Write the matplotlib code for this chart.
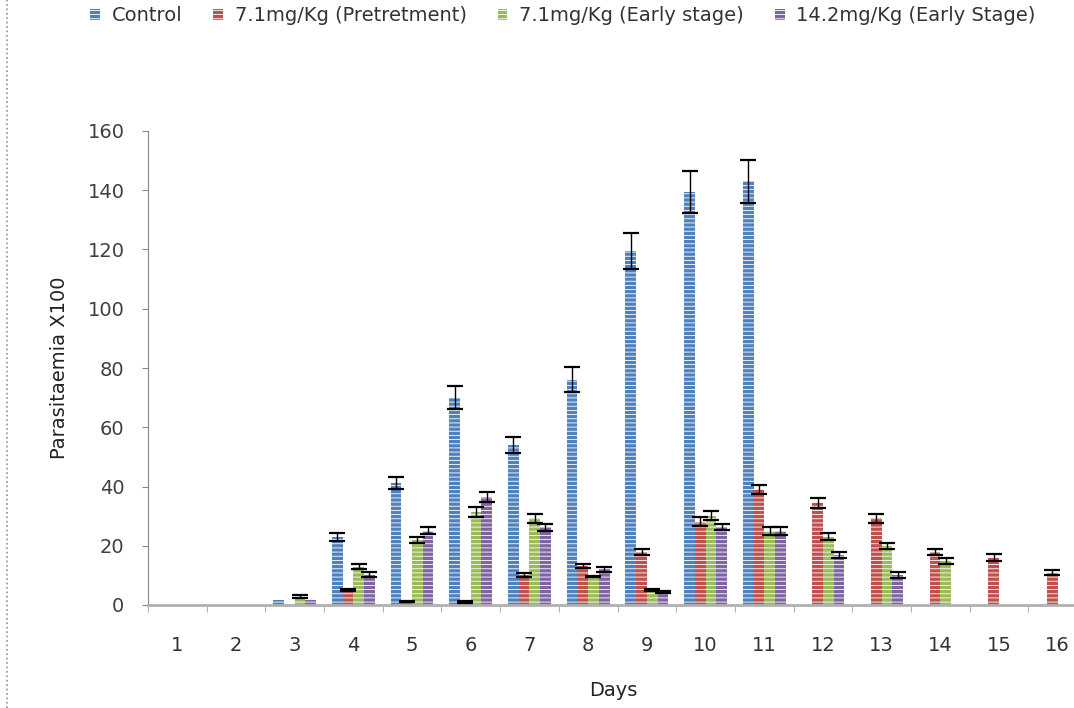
import numpy as np
import matplotlib
matplotlib.use("Agg")
import matplotlib.pyplot as plt
from matplotlib.lines import Line2D

plt.rcParams['font.family'] = ['DejaVu Sans']
plt.rcParams['hatch.color'] = 'white'
plt.rcParams['hatch.linewidth'] = 0.6

days = np.arange(1, 17)
day_labels = [str(d) for d in days]

series = ['Control', '7.1mg/Kg (Pretretment)', '7.1mg/Kg (Early stage)', '14.2mg/Kg (Early Stage)']
colors = ['#4F81BD', '#C0504D', '#9BBB59', '#8064A2']

control = [0, 0, 1.8, 23.0, 41.2, 70.0, 54.1, 76.1, 119.4, 139.4, 143.0, 0, 0, 0, 0, 0]
control_err = [0, 0, 0, 1.3, 2.1, 3.9, 2.7, 4.1, 6.1, 7.1, 7.2, 0, 0, 0, 0, 0]

pretreat = [0, 0, 0, 5.1, 1.2, 1.0, 10.1, 13.1, 17.9, 28.1, 39.0, 34.3, 29.3, 17.9, 16.0, 10.9]
pretreat_err = [0, 0, 0, 0.3, 0.3, 0.2, 0.8, 0.7, 1.0, 1.5, 1.5, 1.7, 1.5, 1.0, 1.1, 0.9]

early_71 = [0, 0, 2.8, 12.9, 21.9, 31.4, 29.3, 9.6, 5.1, 30.2, 25.0, 23.0, 19.9, 15.0, 0, 0]
early_71_err = [0, 0, 0.5, 0.85, 0.9, 1.6, 1.5, 0.3, 0.3, 1.5, 1.4, 1.2, 1.1, 1.0, 0, 0]

early_142 = [0, 0, 1.7, 10.2, 25.1, 36.6, 26.3, 12.1, 4.3, 26.4, 25.0, 17.0, 10.1, 0, 0, 0]
early_142_err = [0, 0, 0, 0.9, 1.3, 1.7, 1.2, 0.8, 0.4, 1.1, 1.4, 1.0, 1.0, 0, 0, 0]

values = [control, pretreat, early_71, early_142]
errors = [control_err, pretreat_err, early_71_err, early_142_err]

fig = plt.figure(figsize=(10.74, 7.08), dpi=100)
ax = fig.add_axes([148 / 1074, 103 / 708, 939 / 1074, 474 / 708])

width = 0.182
offsets = (np.arange(4) - 1.5) * width
handles = []
for i in range(4):
    x = days + offsets[i]
    v = np.array(values[i])
    e = np.array(errors[i])
    bars = ax.bar(x, v, width, color=colors[i], hatch='----', linewidth=0, label=series[i], zorder=2)
    handles.append(bars)
    m = e > 0
    ax.errorbar(x[m], v[m], yerr=e[m], fmt='none', ecolor='black', elinewidth=1.0,
                capsize=6, capthick=1.6, zorder=3)

ax.set_xlim(0.5, 16.5)
ax.set_ylim(0, 160)
ax.set_yticks(np.arange(0, 161, 20))
ax.set_xticks(days)
ax.set_xticklabels(day_labels)
ax.set_xticks(np.arange(0.5, 17, 1), minor=True)

for s in ['top', 'right']:
    ax.spines[s].set_visible(False)
ax.spines['left'].set_color('#868686')
ax.spines['bottom'].set_color('#B0B0B0')
ax.spines['bottom'].set_linewidth(2)

ax.tick_params(axis='y', direction='out', length=4, color='#868686', pad=13,
               labelsize=14, labelcolor='#404040')
ax.tick_params(axis='x', which='major', length=0, pad=22, labelsize=14, labelcolor='#333333')
ax.tick_params(axis='x', which='minor', direction='out', length=5, color='#A0A0A0')

fig.text(60 / 1074, 1 - 368 / 708, 'Parasitaemia X100', rotation=90, ha='center', va='center',
         fontsize=14, color='#222222')
fig.text(613 / 1074, 1 - 690 / 708, 'Days', ha='center', va='center', fontsize=14, color='#222222')

fig.legend(handles=handles, labels=series, loc='upper left', bbox_to_anchor=(90 / 1074, 1 - 6 / 708),
           ncol=4, frameon=False, fontsize=14, handlelength=0.5, handleheight=0.5,
           handletextpad=0.6, columnspacing=1.6, borderpad=0, borderaxespad=0,
           labelcolor='#333333')

fig.add_artist(Line2D([7 / 1074, 7 / 1074], [0, 1], transform=fig.transFigure,
                      color='#909090', linestyle=':', linewidth=1.2))

fig.savefig('out.png', dpi=100)
